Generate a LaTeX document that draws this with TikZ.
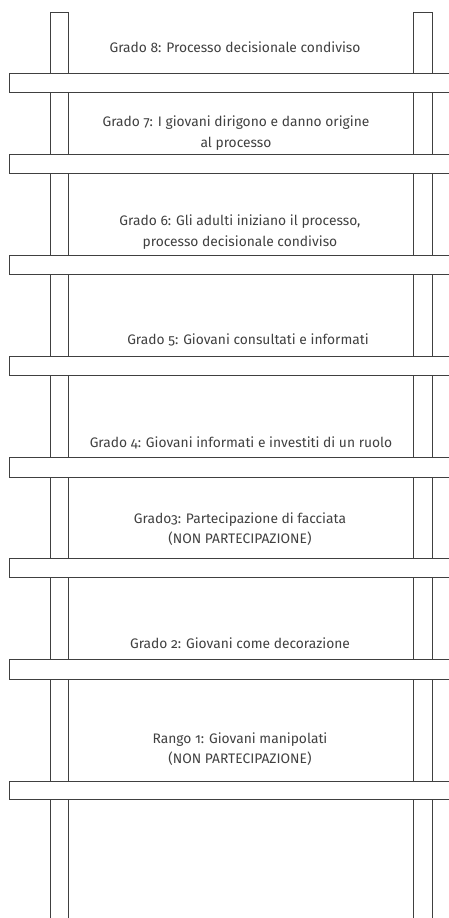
\documentclass[tikz,border=0pt]{standalone}
\usepackage{fontspec}
\setmainfont{Fira Sans}[Numbers=OldStyle]
\begin{document}
\begin{tikzpicture}[x=1pt,y=-1pt,
  rail/.style={draw=black!75,line width=0.8pt},
  rung/.style={draw=black!75,line width=0.8pt,fill=white},
  lbl/.style={text=black!75,font=\fontsize{13.8}{20.5}\selectfont,align=center,inner sep=0pt}]
\useasboundingbox (0,0) rectangle (449,918);
% rails
\draw[rail] (50,930) -- (50,12) -- (68,12) -- (68,930);
\draw[rail] (413,930) -- (413,12) -- (432,12) -- (432,930);
% rungs
\foreach \t/\b [count=\i] in {73/92,154/173,255/274,356/375,457/477,558/577,659/679,781/799}{
  \path[rung] (460,\t) -- (9,\t) -- (9,\b) -- (460,\b);
  \coordinate (rung\i) at (9,\t);
}
% labels
\node[lbl] (g8) at (235,47) {Grado 8: Processo decisionale condiviso};
\node[lbl] (g7) at (236,133) {Grado 7: I giovani dirigono e danno origine\\al processo};
\node[lbl] (g6) at (240,232) {Grado 6: Gli adulti iniziano il processo,\\processo decisionale condiviso};
\node[lbl] (g5) at (248,340) {Grado 5: Giovani consultati e informati};
\node[lbl] (g4) at (241,443) {Grado 4: Giovani informati e investiti di un ruolo};
\node[lbl] (g3) at (240,529) {Grado3: Partecipazione di facciata\\(NON PARTECIPAZIONE)};
\node[lbl] (g2) at (240,643) {Grado 2: Giovani come decorazione};
\node[lbl] (r1) at (240,749) {Rango 1: Giovani manipolati\\(NON PARTECIPAZIONE)};
\end{tikzpicture}
\end{document}
